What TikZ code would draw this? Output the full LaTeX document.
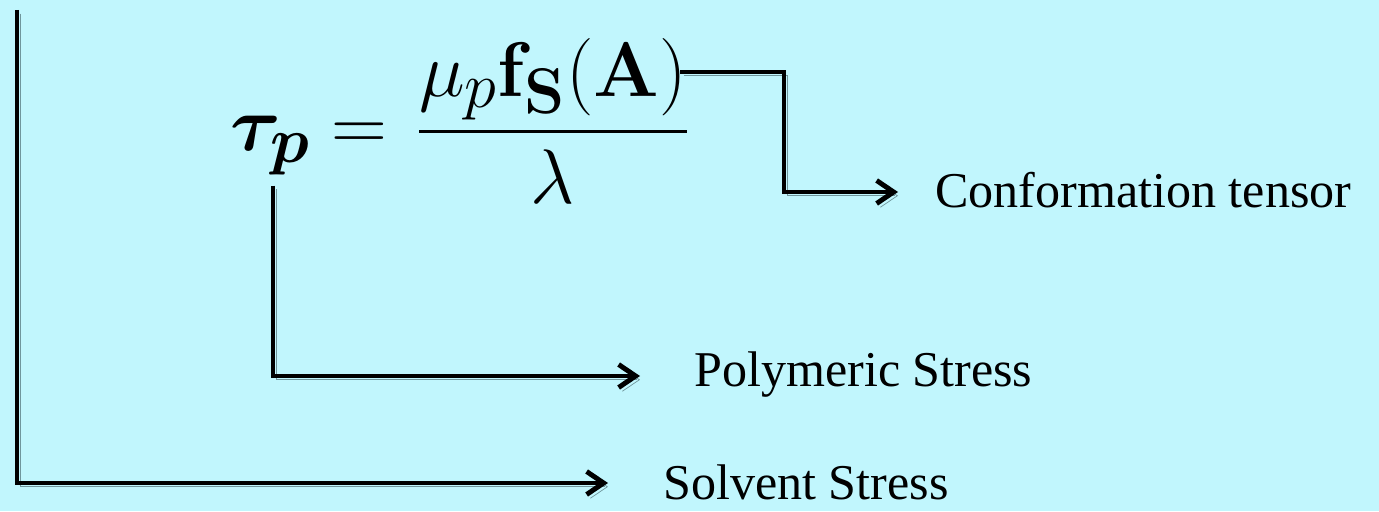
\documentclass[tikz,border=0pt]{standalone}
\usepackage{amsmath,amssymb}
\usepackage[no-math]{fontspec}
\setmainfont{Liberation Serif}
\usepackage{tikz}
\usetikzlibrary{arrows.meta, positioning}
\definecolor{bgCyan}{RGB}{193,246,253}
\definecolor{lnShadow}{RGB}{112,150,156}

\begin{document}
\begin{tikzpicture}[
    eqn/.style={font=\fontsize{24.88}{30}\selectfont, scale=1.77, transform shape, anchor=base},
    lbl/.style={font=\fontsize{28.5}{32}\selectfont, anchor=west, inner sep=0pt, text depth=0pt},
    link/.style={line width=2.8pt, -{Straight Barb[length=3.4mm, width=4.6mm]},
      preaction={draw=lnShadow, transform canvas={shift={(0.075,-0.075)}}}}
  ]
    \fill[bgCyan] (0,0) rectangle (27.58,-10.22);
    \useasboundingbox (0,0) rectangle (27.58,-10.22);
    % equation
    \node[eqn] (tau) at (5.42,-3.01) {$\boldsymbol{\tau_p}$};
    \node[eqn] (eq) at (7.18,-3.01) {$=$};
    \node[eqn] (frac) at (11.06,-3.01) {$\dfrac{\mu_p\mathbf{f}_{\mathbf{S}}(\mathbf{A})}{\lambda}$};
    % labels
    \node[lbl] (conf) at (18.7,-3.80) {Conformation tensor};
    \node[lbl] (poly) at (13.88,-7.38) {Polymeric Stress};
    \node[lbl] (solv) at (13.26,-9.64) {Solvent Stress};
    % connectors
    \coordinate (c0) at (13.6,-1.44);
    \coordinate (c1) at (15.68,-1.44);
    \coordinate (c2) at (15.68,-3.84);
    \coordinate (p1) at (5.46,-7.52);
    \coordinate (s0) at (0.34,-0.2);
    \coordinate (s1) at (0.34,-9.66);
    \draw[link, shorten >=0.74cm] (c0) -- (c1) -- (c2) -- (c2 -| conf.west);
    \draw[link, shorten >=1.08cm] (tau.south -| p1) -- (p1) -- (p1 -| poly.west);
    \draw[link, shorten >=1.1cm] (s0) -- (s1) -- (s1 -| solv.west);
\end{tikzpicture}
\end{document}
